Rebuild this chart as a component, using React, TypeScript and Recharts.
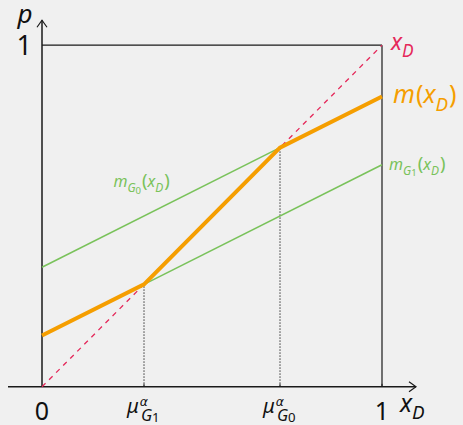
import React from "react"
import { ComposedChart, Line, XAxis, YAxis, ReferenceLine, ReferenceDot } from "recharts"

// kink points of m(x_D)
const mX = [0, 0.3, 0.7, 1]
const mY = [0.15, 0.3, 0.7, 0.85]
// 45 degree reference line
const diagX = [0, 1]
const diagY = [0, 1]
// the two group lines, only drawn where they are not part of m
const g0X = [0, 0.7]
const g0Y = [0.35, 0.7]
const g1X = [0.3, 1]
const g1Y = [0.3, 0.65]
const muG1 = 0.3
const muG0 = 0.7

const zip = (xs: number[], ys: number[]) => xs.map((x, i) => ({ x, y: ys[i] }))

const orange = "#f59e00"
const green = "#79c25a"
const red = "#e5285a"
const axisColor = "#1a1a1a"
const FONT = "'Noto Sans', 'DejaVu Sans', sans-serif"

// s: size factor, o: baseline shift factor (both relative to fs)
type Part = { t: string; s?: number; o?: number; it?: boolean; dx?: number; f?: string }

function MathText({ x, y, fs, fill, parts, anchor = "start" }: any) {
  let cur = 0
  return (
    <text x={x} y={y} fill={fill} fontFamily={FONT} textAnchor={anchor}>
      {parts.map((p: Part, i: number) => {
        const off = (p.o ?? 0) * fs
        const dy = off - cur
        cur = off
        return (
          <tspan key={i} dy={dy} dx={p.dx ?? 0} fontSize={(p.s ?? 1) * fs}
            fontFamily={p.f} fontStyle={p.it === false ? "normal" : "italic"}>
            {p.t}
          </tspan>
        )
      })}
    </text>
  )
}

const label = (dx: number, dy: number, fs: number, fill: string, parts: Part[], anchor = "start") => (p: any) =>
  <MathText x={p.cx + dx} y={p.cy + dy} fs={fs} fill={fill} parts={parts} anchor={anchor} />

const arrow = (dir: "right" | "up") => (p: any) => {
  const { cx, cy } = p
  const d = dir === "right"
    ? `M${cx - 7},${cy - 5} L${cx},${cy} L${cx - 7},${cy + 5}`
    : `M${cx - 5},${cy + 7} L${cx},${cy} L${cx + 5},${cy + 7}`
  return <path d={d} fill="none" stroke={axisColor} strokeWidth={1.2} />
}

const tick = (p: any) => <line x1={p.cx} y1={p.cy} x2={p.cx} y2={p.cy - 3} stroke={axisColor} strokeWidth={1} />

const SUB = { s: 0.75, o: 0.3 }
const xD: Part[] = [{ t: "x" }, { t: "D", ...SUB }]

const muLabel = (g: string): Part[] => [
  { t: "μ" },
  { t: "α", s: 0.62, o: -0.35, dx: 1, f: "'DejaVu Sans'" },
  { t: "G", s: 0.82, o: 0.42, dx: -7 },
  { t: g, s: 0.66, o: 0.48, it: false },
]

const mOf = (g: string): Part[] => [
  { t: "m" },
  { t: "G", s: 0.75, o: 0.3 },
  { t: g, s: 0.6, o: 0.42, it: false },
  { t: "(", s: 1.15, it: false, dx: 1 },
  ...xD,
  { t: ")", s: 1.15, it: false, dx: 1 },
]

export default function App() {
  return (
    <div style={{ position: "absolute", left: 0, top: 0, width: 463, height: 425, background: "#f0f0f0" }}>
      <ComposedChart width={463} height={425} margin={{ top: 11, right: 47, bottom: 4, left: 8 }}>
        <XAxis type="number" dataKey="x" domain={[-0.1, 1.1]} hide />
        <YAxis type="number" dataKey="y" domain={[-0.1, 1.1]} hide />

        {/* box */}
        <ReferenceLine segment={[{ x: 0, y: 1 }, { x: 1, y: 1 }]} stroke={axisColor} strokeWidth={1.2} />
        <ReferenceLine segment={[{ x: 1, y: 0 }, { x: 1, y: 1 }]} stroke={axisColor} strokeWidth={1.2} />
        {/* dotted drops */}
        <ReferenceLine segment={[{ x: muG1, y: 0 }, { x: muG1, y: 0.3 }]} stroke="#333" strokeWidth={1} strokeDasharray="1.5 1.5" />
        <ReferenceLine segment={[{ x: muG0, y: 0 }, { x: muG0, y: 0.7 }]} stroke="#333" strokeWidth={1} strokeDasharray="1.5 1.5" />
        {/* axes */}
        <ReferenceLine segment={[{ x: -0.1, y: 0 }, { x: 1.1, y: 0 }]} stroke={axisColor} strokeWidth={1.5} />
        <ReferenceLine segment={[{ x: 0, y: 0 }, { x: 0, y: 1.073 }]} stroke={axisColor} strokeWidth={1.5} />

        <Line data={zip(g0X, g0Y)} dataKey="y" type="linear" stroke={green} strokeWidth={1.5} dot={false} isAnimationActive={false} />
        <Line data={zip(g1X, g1Y)} dataKey="y" type="linear" stroke={green} strokeWidth={1.5} dot={false} isAnimationActive={false} />
        <Line data={zip(diagX, diagY)} dataKey="y" type="linear" stroke={red} strokeWidth={1.3} strokeDasharray="5 5" dot={false} isAnimationActive={false} />
        <Line data={zip(mX, mY)} dataKey="y" type="linear" stroke={orange} strokeWidth={4} dot={false} isAnimationActive={false} />

        <ReferenceDot x={1.1} y={0} shape={arrow("right")} />
        <ReferenceDot x={0} y={1.073} shape={arrow("up")} />
        <ReferenceDot x={muG1} y={0} shape={tick} />
        <ReferenceDot x={muG0} y={0} shape={tick} />
        <ReferenceDot x={1} y={0} shape={tick} />

        {/* axis labels */}
        <ReferenceDot x={0} y={0} shape={label(0, 33, 25, "#111", [{ t: "0", it: false }], "middle")} />
        <ReferenceDot x={1} y={0} shape={label(0, 33, 25, "#111", [{ t: "1", it: false }], "middle")} />
        <ReferenceDot x={muG1} y={0} shape={label(-17, 26, 20, "#111", muLabel("1"))} />
        <ReferenceDot x={muG0} y={0} shape={label(-17, 26, 20, "#111", muLabel("0"))} />
        <ReferenceDot x={1} y={0} shape={label(18, 25, 25, "#111", xD)} />
        <ReferenceDot x={0} y={1} shape={label(-10, 10, 27, "#111", [{ t: "1", it: false }], "end")} />
        <ReferenceDot x={0} y={1.073} shape={label(-17, 3, 26, "#111", [{ t: "p" }], "middle")} />

        {/* series labels */}
        <ReferenceDot x={1} y={1} shape={label(9, 5, 23, red, xD)} />
        <ReferenceDot x={1} y={0.85} shape={label(11, 7, 25, orange, [{ t: "m" }, { t: "(", it: false, dx: 1 }, ...xD, { t: ")", it: false, dx: 1 }])} />
        <ReferenceDot x={1} y={0.65} shape={label(7, 5, 16, green, mOf("1"))} />
        <ReferenceDot x={0.21} y={0.585} shape={label(0, 0, 16, green, mOf("0"))} />
      </ComposedChart>
    </div>
  )
}
